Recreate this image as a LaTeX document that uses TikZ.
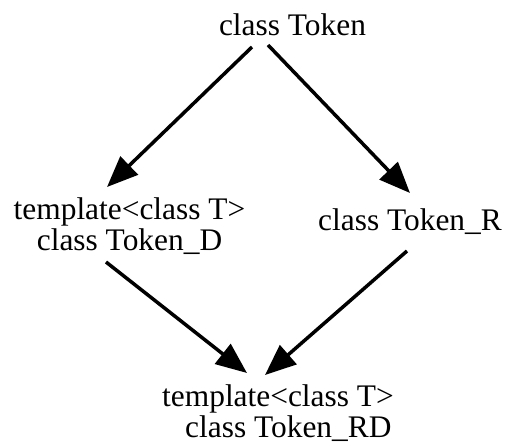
\documentclass[tikz,border=0pt]{standalone}
\usepackage{fontspec}
\setmainfont{Liberation Serif}
\usetikzlibrary{arrows.meta}
\begin{document}
\begin{tikzpicture}[x=1pt,y=-1pt,
  label/.style={inner sep=0pt,font=\fontsize{31.4}{31.5}\selectfont},
  inherit/.style={line width=3.5pt,-{Triangle[length=31pt,width=25pt]}}]
\useasboundingbox (0,0) rectangle (509,444);

% class hierarchy
\node[label,anchor=base] (token) at (292.5,36) {class Token};
\node[label,anchor=north,align=center] (tokd) at (129.5,197.5)
  {template<class T>\\class Token\_D};
\node[label,anchor=base] (tokr) at (410,230) {class Token\_R};
\node[label,anchor=north west,align=left] (tokrd) at (162,384.5)
  {template<class T>\\\hspace*{23pt}class Token\_RD};

% inheritance arrows
\draw[inherit] ([shift={(-40.5,11)}]token.base) -- ([shift={(-22.5,-10.5)}]tokd.north);
\draw[inherit] ([shift={(-24.5,9)}]token.base) -- ([shift={(0,-37)}]tokr.base);
\draw[inherit] ([shift={(-23.5,64.5)}]tokd.north) -- ([shift={(85,-11.5)}]tokrd.north west);
\draw[inherit] ([shift={(-3,21)}]tokr.base) -- ([shift={(103,-9.5)}]tokrd.north west);
\end{tikzpicture}
\end{document}
